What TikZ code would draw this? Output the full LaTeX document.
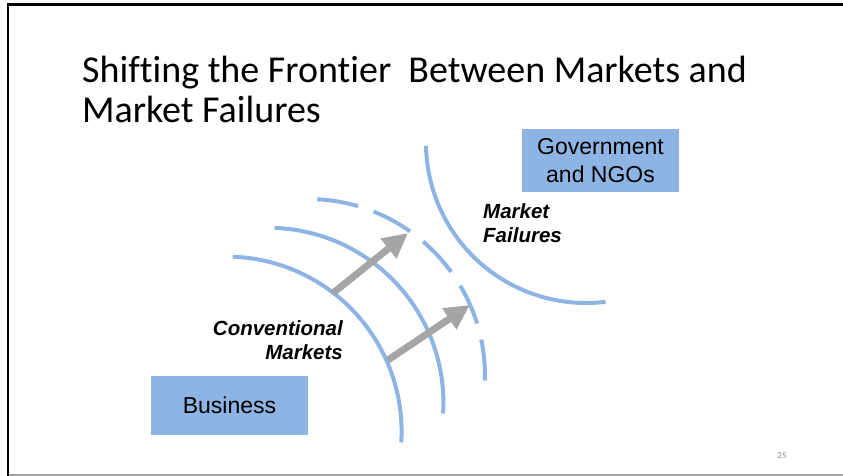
\documentclass[tikz,border=0pt]{standalone}
\usepackage{fontspec}
\setmainfont{Carlito}[Ligatures=NoCommon]
\newfontfamily\arialfont{Liberation Sans}
\usepackage{tikz}
\usetikzlibrary{arrows.meta, positioning, calc}
\definecolor{frontierblue}{RGB}{142,180,227}
\definecolor{pushgray}{RGB}{165,165,165}
\definecolor{pagegray}{RGB}{137,137,137}
\tikzset{
    frontier/.style={ % Sets the properties for each boundary arc
        draw=frontierblue,
        line width=4pt
    },
    sector/.style={ % Boxes for the actors
        fill=frontierblue,
        inner sep=0pt,
        minimum width=157pt,
        align=center,
        font=\arialfont\fontsize{23}{28}\selectfont
    },
    region/.style={ % Bold italic labels of the two regions
        inner sep=0pt,
        font=\arialfont\fontsize{20.5}{24.5}\selectfont\bfseries\itshape
    },
    push/.style={ % Gray arrows moving the frontier outwards
        draw=pushgray,
        line width=7pt,
        -{Triangle[width=24pt, length=25pt]}
    }
}

\begin{document}
\begin{tikzpicture}[x=1pt, y=1pt]
    \useasboundingbox (0,0) rectangle (843,476);
    % slide frame
    \draw[line width=2.5pt]             (850,471.5) -- (8,471.5) -- (8,-5);
    \draw[pagegray!80, line width=2pt]  (9,1) -- (850,1);

    % base anchor sits on the last line of the text
    \node[anchor=base west, align=left, inner sep=0pt,
          font=\fontsize{38}{40.5}\selectfont]      (title)    at (82,353)
          {Shifting the Frontier \ Between Markets and\\Market Failures};

    \coordinate (c1) at (226.6,44.4);
    \coordinate (c2) at (268.4,73.2);
    \coordinate (c3) at (308,100);
    \coordinate (c4) at (586,333);
    \draw[frontier] (c1) ++(88:175) arc[start angle=88, end angle=-3.5, radius=175];
    \draw[frontier] (c2) ++(88:175) arc[start angle=88, end angle=-3.5, radius=175];
    \draw[frontier, dash pattern=on 41.5pt off 16.5pt]
                    (c3) ++(87:177) arc[start angle=87, end angle=-1.6, radius=177];
    \draw[frontier] (c4) ++(181:160) arc[start angle=181, end angle=277, radius=160];

    \coordinate (tail1) at (333,183);
    \coordinate (head1) at (408,243);
    \coordinate (tail2) at (388,116);
    \coordinate (head2) at (470,171);
    \draw[push] (tail1) -- (head1);
    \draw[push] (tail2) -- (head2);

    \node[sector, minimum height=59pt]              (business) at (229.5,70.5) {Business};
    \node[sector, minimum height=63pt]              (govt)     at (600.5,315.5) {Government\\and NGOs};
    \node[region, align=right, anchor=base east]    (conv)     at (343,116) {Conventional\\Markets};
    \node[region, align=left, anchor=base west]     (fail)     at (483,233) {Market\\Failures};
    \node[font=\fontsize{9}{10}\selectfont, text=pagegray] (page) at (782,20) {25};
\end{tikzpicture}
\end{document}
